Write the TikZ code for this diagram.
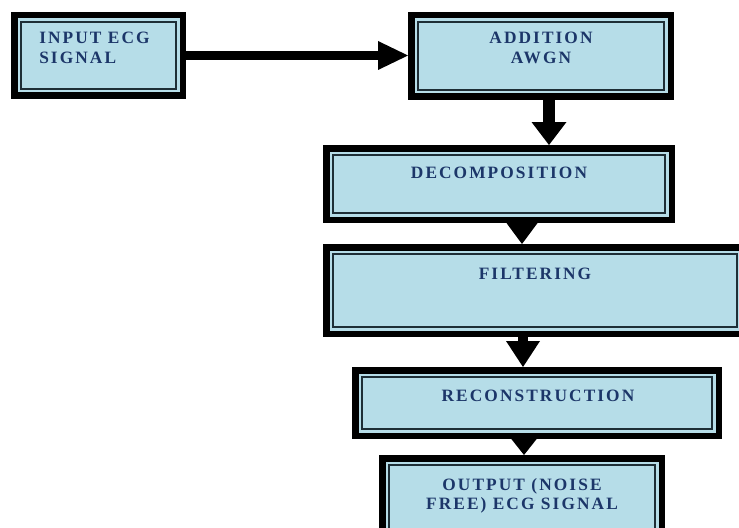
\documentclass[tikz,border=0pt]{standalone}
\usepackage{fontspec}
\setmainfont{Liberation Serif}
\usetikzlibrary{arrows.meta}
\definecolor{boxblue}{HTML}{B6DDE8}
\definecolor{navy}{HTML}{1C3669}
\definecolor{innerdark}{HTML}{1E2E36}
\tikzset{
  stagebox/.style={draw=black, fill=boxblue, line width=4.875pt, inner sep=0pt},
  innerline/.style={draw=innerdark, line width=1.5pt},
  lbl/.style={text=navy, inner sep=0pt, font=\fontsize{13}{14.6}\selectfont\bfseries\addfontfeatures{LetterSpace=12}},
  flow/.style={draw=black, fill=black}
}
\begin{document}
\begin{tikzpicture}[x=0.75pt, y=-0.75pt]
\useasboundingbox (0,0) rectangle (739,528);
\clip (0,0) rectangle (739,528);
\node[stagebox, minimum width=126.375pt, minimum height=60.375pt] (inp) at (98.5,55.5) {};
\node[stagebox, minimum width=194.625pt, minimum height=61.125pt] (add) at (541,56) {};
\node[stagebox, minimum width=259.125pt, minimum height=53.625pt] (dec) at (499,184) {};
\node[stagebox, minimum width=313.125pt, minimum height=64.875pt] (fil) at (535,290.5) {};
\node[stagebox, minimum width=272.625pt, minimum height=49.125pt] (rec) at (537,403) {};
\node[stagebox, minimum width=209.625pt, minimum height=58.875pt] (out) at (522,497.5) {};
\foreach \n in {inp,add,dec,fil,rec,out}
  \draw[innerline] ([xshift=7.3pt,yshift=7.3pt]\n.south west) rectangle ([xshift=-7.3pt,yshift=-7.3pt]\n.north east);
\node[lbl, anchor=north west, align=left] (inpT) at (39,32) {INPUT ECG\\SIGNAL};
\node[lbl, anchor=north, align=center] (addT) at (541,32) {ADDITION\\AWGN};
\node[lbl, anchor=north] (decT) at (499,167) {DECOMPOSITION};
\node[lbl, anchor=north] (filT) at (535,268) {FILTERING};
\node[lbl, anchor=north] (recT) at (538,390) {RECONSTRUCTION};
\node[lbl, anchor=north, align=center] (outT) at (522,478) {OUTPUT (NOISE\\FREE) ECG SIGNAL};
\coordinate (c2) at (549,0);
\coordinate (c3) at (522,0);
\coordinate (c4) at (523,0);
\coordinate (c5) at (524,0);
\draw[line width=6.75pt, -{Triangle[length=22.5pt,width=21.75pt,line width=0pt]}] (inp.east) -- (inp.east -| add.west);
\draw[line width=9pt, -{Triangle[length=17.25pt,width=26.25pt,line width=0pt]}] (add.south -| c2) -- (dec.north -| c2);
\draw[line width=9pt, -{Triangle[length=15.7pt,width=23.25pt,line width=0pt]}] (dec.south -| c3) -- (fil.north -| c3);
\draw[line width=7.5pt, -{Triangle[length=19.5pt,width=25.5pt,line width=0pt]}] (fil.south -| c4) -- (rec.north -| c4);
\draw[line width=7.5pt, -{Triangle[length=12pt,width=19pt,line width=0pt]}] (rec.south -| c5) -- (out.north -| c5);
\end{tikzpicture}
\end{document}
